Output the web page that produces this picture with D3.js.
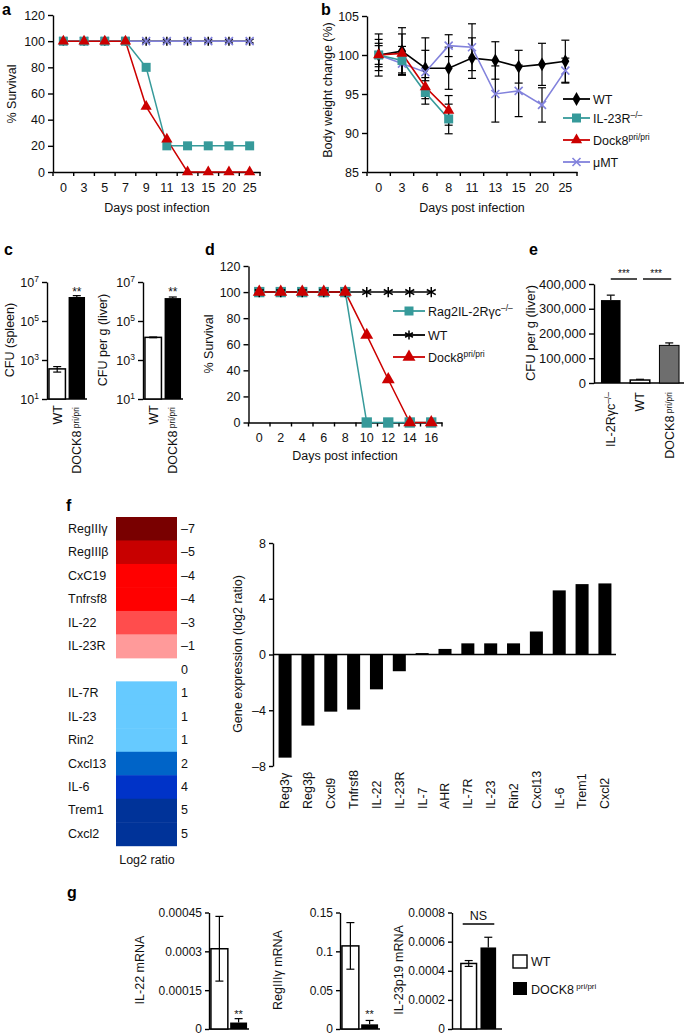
<!DOCTYPE html>
<html>
<head>
<meta charset="utf-8">
<script src="https://cdn.jsdelivr.net/npm/d3@7/dist/d3.min.js"></script>
<style>
html,body{margin:0;padding:0;background:#fff;}
svg{display:block;font-family:"Liberation Sans",Arial,Helvetica,sans-serif;}
</style>
</head>
<body>
<svg id="fig" width="685" height="1036" viewBox="0 0 685 1036"></svg>
<script>
// ================= DATA =================
// Panel a – survival
const daysA = ["0","3","5","7","9","11","13","15","20","25"];
const survA_WT    = [100,100,100,100,100,100,100,100,100,100];
const survA_muMT  = [100,100,100,100,100,100,100,100,100,100];
const survA_IL23R = [100,100,100,100,80,20,20,20,20,20];
const survA_Dock8 = [100,100,100,100,50,25,0,0,0,0];
const survTicks = [0,20,40,60,80,100,120];

// Panel b – body weight
const daysB = ["0","3","6","8","11","13","15","20","25"];
const wtB      = [100,100.5,98.3,98.3,99.6,99.3,98.5,98.8,99.2];
const wtBErr   = [2.7,3.0,3.9,2.7,2.6,2.4,2.1,2.7,2.7];
const mumtB    = [100,98.9,97.8,101.2,101.0,95.0,95.4,93.6,98.0];
const mumtBErr = [1.2,1.5,2.8,1.4,3.0,3.6,3.3,2.2,1.6];
const il23rB   = [100,99.3,95.2,91.8];
const il23rBErr= [1.5,1.8,1.5,1.9];
const dock8B   = [100,100.2,95.9,92.9];
const dock8BErr= [2.0,2.5,1.2,1.9];
const weightTicks = [85,90,95,100,105];

// Panel c – CFU (log)
const groupsC = ["WT","DOCK8"];
const cfuSpleen    = [350,1.7e6];
const cfuSpleenErr = [110,3e5];
const cfuLiver     = [1.45e4,1.5e6];
const cfuLiverErr  = [600,2e5];
const logTicks = [10,1e3,1e5,1e7];

// Panel d – survival
const daysD = ["0","2","4","6","8","10","12","14","16"];
const survD_Rag2  = [100,100,100,100,100,0,0,0,0];
const survD_WT    = [100,100,100,100,100,100,100,100,100];
const survD_Dock8 = [100,100,100,100,100,67,33,0,0];

// Panel e – CFU liver
const groupsE = ["IL-2Rγc","WT","DOCK8"];
const cfuE    = [335000,12000,152000];
const cfuEErr = [20000,3000,10000];
const ticksE  = [0,100000,200000,300000,400000];

// Panel f – heat map
const heatGenes  = ["RegIIIγ","RegIIIβ","CxC19","Tnfrsf8","IL-22","IL-23R","","IL-7R","IL-23","Rin2","Cxcl13","IL-6","Trem1","Cxcl2"];
const heatValues = [-7,-5,-4,-4,-3,-1,0,1,1,1,2,4,5,5];
const heatLevels = [-7,-5,-4,-3,-1,1,2,4,5];
const heatColors = ["#790000","#c80000","#ff0000","#ff4d4d","#ff9a9a","#66caff","#0064c8","#0033c8","#003399"];

// Panel f – bar chart
const barGenes  = ["Reg3γ","Reg3β","Cxcl9","Tnfrsf8","IL-22","IL-23R","IL-7","AHR","IL-7R","IL-23","Rin2","Cxcl13","IL-6","Trem1","Cxcl2"];
const barValues = [-7.4,-5.1,-4.1,-3.95,-2.5,-1.2,0.1,0.4,0.8,0.8,0.8,1.65,4.6,5.05,5.1];
const barTicks  = [-8,-4,0,4,8];

// Panel g – mRNA
const groupsG = ["WT","DOCK8"];
const il22     = [0.00031,0.000025];
const il22Err  = [0.000125,0.000015];
const il22Ticks = [0,0.00015,0.0003,0.00045];
const il22Labels = ["0","0.00015","0.0003","0.00045"];
const reg3g    = [0.107,0.006];
const reg3gErr = [0.030,0.005];
const reg3gTicks = [0,0.05,0.1,0.15];
const reg3gLabels = ["0","0.05","0.1","0.15"];
const il23p19    = [0.00045,0.00056];
const il23p19Err = [0.00002,0.00007];
const il23p19Ticks = [0,0.0002,0.0004,0.0006,0.0008];
const il23p19Labels = ["0","0.0002","0.0004","0.0006","0.0008"];

// ================= HELPERS =================
const svg = d3.select("#fig");
const FONT = '"Liberation Sans", Arial, Helvetica, sans-serif';
const INK = "#111";
const TEAL = "#369a9a", RED = "#cc0000", LAV = "#8282dc";
const SW = 1.4;

function txt(g,x,y,s,o={}){
  const t = g.append("text").attr("x",x).attr("y",y)
    .attr("font-size",o.size||12).attr("fill",o.fill||INK)
    .attr("text-anchor",o.anchor||"start");
  if(o.weight) t.attr("font-weight",o.weight);
  t.text(s);
  return t;
}
function sup(t,s,size=8,dy=-5){ t.append("tspan").attr("font-size",size).attr("dy",dy).text(s); return t; }
function vtext(g,x,y,s,o={}){
  return g.append("text").attr("transform",`translate(${x},${y}) rotate(-90)`)
    .attr("dy","0.35em").attr("font-size",o.size||12).attr("fill",INK)
    .attr("text-anchor",o.anchor||"middle").text(s);
}
function leftAxis(g,scale,x,ticks,fmt,size=12.5,tick=5){
  const a = g.append("g").attr("transform",`translate(${x},0)`)
    .call(d3.axisLeft(scale).tickValues(ticks).tickFormat(fmt).tickSize(tick).tickSizeOuter(0).tickPadding(3));
  a.attr("font-family",FONT).attr("font-size",size);
  a.select(".domain").attr("stroke","#000").attr("stroke-width",SW);
  a.selectAll(".tick line").attr("stroke","#000").attr("stroke-width",SW);
  a.selectAll(".tick text").attr("fill",INK);
  return a;
}
function bandBottomAxis(g,xs,y,pad=11,size=12.5){
  const a = g.append("g").attr("transform",`translate(0,${y})`)
    .call(d3.axisBottom(xs).tickSize(0).tickSizeOuter(0).tickPadding(pad));
  a.attr("font-family",FONT).attr("font-size",size);
  a.select(".domain").attr("stroke","#000").attr("stroke-width",SW);
  a.selectAll(".tick text").attr("fill",INK);
  const bounds = xs.domain().map(d=>xs(d)).concat([xs.range()[1]]);
  g.selectAll(null).data(bounds).enter().append("line")
    .attr("x1",d=>d).attr("x2",d=>d).attr("y1",y).attr("y2",y+4)
    .attr("stroke","#000").attr("stroke-width",SW);
}
function plainBaseline(g,x1,x2,y){
  g.append("line").attr("x1",x1).attr("x2",x2).attr("y1",y).attr("y2",y)
    .attr("stroke","#000").attr("stroke-width",SW);
}
function marker(g,type,x,y,color,scale=1){
  if(type==="square"){
    const s=9*scale;
    g.append("rect").attr("x",x-s/2).attr("y",y-s/2).attr("width",s).attr("height",s).attr("fill",color);
  } else if(type==="triangle"){
    g.append("path").attr("d",d3.symbol(d3.symbolTriangle,55*scale*scale)()).attr("transform",`translate(${x},${y})`).attr("fill",color);
  } else if(type==="diamond"){
    g.append("path").attr("d",d3.symbol(d3.symbolDiamond,55*scale*scale)()).attr("transform",`translate(${x},${y})`).attr("fill",color);
  } else if(type==="cross"){
    const r=4*scale;
    g.append("path").attr("d",`M${x-r},${y-r}L${x+r},${y+r}M${x-r},${y+r}L${x+r},${y-r}`)
      .attr("stroke",color).attr("stroke-width",1.6).attr("fill","none");
  } else if(type==="asterisk"){
    const r=4.5*scale, a=3.9*scale, b=2.25*scale;
    g.append("path").attr("d",`M${x},${y-r}L${x},${y+r}M${x-a},${y-b}L${x+a},${y+b}M${x-a},${y+b}L${x+a},${y-b}`)
      .attr("stroke",color).attr("stroke-width",1.5).attr("fill","none");
  }
}
// error bar from yTop to yBot; bottom cap only when twoSided
function errBar(g,x,yTop,yBot,twoSided=true,cap=8){
  g.append("line").attr("x1",x).attr("x2",x).attr("y1",yTop).attr("y2",yBot).attr("stroke","#000").attr("stroke-width",1.2);
  g.append("line").attr("x1",x-cap/2).attr("x2",x+cap/2).attr("y1",yTop).attr("y2",yTop).attr("stroke","#000").attr("stroke-width",1.2);
  if(twoSided) g.append("line").attr("x1",x-cap/2).attr("x2",x+cap/2).attr("y1",yBot).attr("y2",yBot).attr("stroke","#000").attr("stroke-width",1.2);
}
function survivalSeries(g,xs,ys,days,seriesList,mscale=1){
  const cx = d=>xs(d)+xs.bandwidth()/2;
  seriesList.forEach(s=>{
    const pts = s.vals.map((v,i)=>[cx(days[i]),ys(v)]);
    g.append("path").attr("d",d3.line()(pts)).attr("fill","none").attr("stroke",s.color).attr("stroke-width",1.5);
  });
  seriesList.forEach(s=>{
    s.vals.forEach((v,i)=>marker(g,s.m,cx(days[i]),ys(v),s.color,mscale));
  });
}
function legendRow(g,x1,x2,y,color,m,label,supTxt,mscale=1){
  g.append("line").attr("x1",x1).attr("x2",x2).attr("y1",y).attr("y2",y).attr("stroke",color).attr("stroke-width",1.8);
  marker(g,m,(x1+x2)/2,y,color,mscale);
  const t = txt(g,x2+3,y+4.5,label,{size:12.5});
  if(supTxt) sup(t,supTxt,8.5,-5);
}

// ================= PANEL a =================
{
  const g = svg.append("g");
  txt(g,2,15,"a",{size:16,weight:"bold",fill:"#000"});
  const x = d3.scaleBand().domain(daysA).range([53,260]);
  const y = d3.scaleLinear().domain([0,120]).range([172,15]);
  leftAxis(g,y,53,survTicks,d=>d);
  bandBottomAxis(g,x,172);
  vtext(g,12,94,"% Survival",{size:12.5});
  txt(g,157,212,"Days post infection",{anchor:"middle",size:12.5});
  survivalSeries(g,x,y,daysA,[
    {vals:survA_WT,color:"#000",m:"asterisk"},
    {vals:survA_muMT,color:LAV,m:"cross"},
    {vals:survA_IL23R,color:TEAL,m:"square"},
    {vals:survA_Dock8,color:RED,m:"triangle"}
  ]);
}

// ================= PANEL b =================
{
  const g = svg.append("g");
  txt(g,321,15,"b",{size:16,weight:"bold",fill:"#000"});
  const x = d3.scaleBand().domain(daysB).range([367,577]);
  const y = d3.scaleLinear().domain([85,105]).range([172,16]);
  leftAxis(g,y,367,weightTicks,d=>d);
  bandBottomAxis(g,x,172);
  vtext(g,328,90,"Body weight change (%)",{size:12.5});
  txt(g,472,212,"Days post infection",{anchor:"middle",size:12.5});
  const cx = d=>x(d)+x.bandwidth()/2;
  const sets = [
    {vals:wtB,err:wtBErr,color:"#000",m:"diamond"},
    {vals:mumtB,err:mumtBErr,color:LAV,m:"cross"},
    {vals:il23rB,err:il23rBErr,color:TEAL,m:"square"},
    {vals:dock8B,err:dock8BErr,color:RED,m:"triangle"}
  ];
  sets.forEach(s=>s.vals.forEach((v,i)=>errBar(g,cx(daysB[i]),y(v+s.err[i]),y(v-s.err[i]),true,8)));
  sets.forEach(s=>{
    const pts = s.vals.map((v,i)=>[cx(daysB[i]),y(v)]);
    g.append("path").attr("d",d3.line()(pts)).attr("fill","none").attr("stroke",s.color).attr("stroke-width",1.6);
  });
  sets.forEach(s=>s.vals.forEach((v,i)=>marker(g,s.m,cx(daysB[i]),y(v),s.color)));
  legendRow(g,563,590,99,"#000","diamond","WT");
  legendRow(g,563,590,118,TEAL,"square","IL-23R","–/–");
  legendRow(g,563,590,140,RED,"triangle","Dock8","pri/pri");
  legendRow(g,563,590,162,LAV,"cross","μMT");
}

// ================= PANEL c =================
function cfuLogChart(g,axisX,xr,vals,errs,title,titleX){
  const y = d3.scaleLog().domain([10,1e7]).range([399,282]);
  const x = d3.scaleBand().domain(groupsC).range(xr).paddingInner(0.16).paddingOuter(0.1);
  const a = leftAxis(g,y,axisX,logTicks,()=>"");
  a.selectAll(".tick text").each(function(d){
    const t = d3.select(this); t.text("10");
    t.append("tspan").attr("dy",-5).attr("font-size",8.5).text(Math.round(Math.log10(d)));
  });
  plainBaseline(g,axisX,xr[1],399);
  groupsC.forEach((k,i)=>{
    const x0 = x(k), w = x.bandwidth();
    const r = g.append("rect").attr("x",x0).attr("width",w).attr("y",y(vals[i])).attr("height",399-y(vals[i]));
    if(i===0) r.attr("fill","#fff").attr("stroke","#000").attr("stroke-width",1.5);
    else r.attr("fill","#000");
    if(i===0) errBar(g,x0+w/2,y(vals[i]+errs[i]),y(vals[i]-errs[i]),true,8);
    else errBar(g,x0+w/2,y(vals[i]+errs[i]),y(vals[i]),false,8);
  });
  txt(g,x(groupsC[1])+x.bandwidth()/2,296,"**",{anchor:"middle",size:12});
  vtext(g,titleX,340,title,{size:12.5});
  g.append("text").attr("transform",`translate(${x(groupsC[0])+x.bandwidth()/2},405) rotate(-90)`)
    .attr("dy","0.35em").attr("text-anchor","end").attr("font-size",12.5).attr("fill",INK).text("WT");
  const l2 = g.append("text").attr("transform",`translate(${x(groupsC[1])+x.bandwidth()/2},407) rotate(-90)`)
    .attr("dy","0.35em").attr("text-anchor","end").attr("font-size",12.5).attr("fill",INK).text("DOCK8");
  l2.append("tspan").attr("font-size",8.5).attr("dy",-2).text(" pri/pri");
}
{
  const g = svg.append("g");
  txt(g,4,255,"c",{size:16,weight:"bold",fill:"#000"});
  cfuLogChart(g,47,[47,87],cfuSpleen,cfuSpleenErr,"CFU (spleen)",10);
  cfuLogChart(g,143,[143,183],cfuLiver,cfuLiverErr,"CFU per g (liver)",103);
}

// ================= PANEL d =================
{
  const g = svg.append("g");
  txt(g,205,255,"d",{size:16,weight:"bold",fill:"#000"});
  const x = d3.scaleBand().domain(daysD).range([248.5,442]);
  const y = d3.scaleLinear().domain([0,120]).range([422.5,266]);
  leftAxis(g,y,248.5,survTicks,d=>d);
  bandBottomAxis(g,x,422.5);
  vtext(g,209,344,"% Survival",{size:12.5});
  txt(g,345,460,"Days post infection",{anchor:"middle",size:12.5});
  survivalSeries(g,x,y,daysD,[
    {vals:survD_Rag2,color:TEAL,m:"square"},
    {vals:survD_WT,color:"#000",m:"asterisk"},
    {vals:survD_Dock8,color:RED,m:"triangle"}
  ],1.15);
  legendRow(g,393,425,311,TEAL,"square","Rag2IL-2Rγc","–/–");
  legendRow(g,393,425,335,"#000","asterisk","WT");
  legendRow(g,393,425,357,RED,"triangle","Dock8","pri/pri",1.15);
}

// ================= PANEL e =================
{
  const g = svg.append("g");
  txt(g,529,255,"e",{size:16,weight:"bold",fill:"#000"});
  const y = d3.scaleLinear().domain([0,400000]).range([383,284]);
  const x = d3.scaleBand().domain(groupsE).range([596,684]).paddingInner(0.33).paddingOuter(0.17);
  leftAxis(g,y,594,ticksE,d3.format(","),13);
  plainBaseline(g,594,684,383);
  const fills = ["#000","#fff","#6e6e6e"];
  groupsE.forEach((k,i)=>{
    const x0 = x(k), w = x.bandwidth();
    errBar(g,x0+w/2,y(cfuE[i]+cfuEErr[i]),y(cfuE[i]),false,8);
    const r = g.append("rect").attr("x",x0).attr("width",w).attr("y",y(cfuE[i])).attr("height",383-y(cfuE[i])).attr("fill",fills[i]);
    if(i===1) r.attr("stroke","#000").attr("stroke-width",1.5);
    else if(i===2) r.attr("stroke","#000").attr("stroke-width",1);
  });
  const c = groupsE.map(k=>x(k)+x.bandwidth()/2);
  plainBaseline(g,c[0],c[1]-3,279);
  plainBaseline(g,c[1]+3,c[2]+2,279);
  txt(g,(c[0]+c[1]-3)/2,277,"***",{anchor:"middle",size:10});
  txt(g,(c[1]+3+c[2])/2,277,"***",{anchor:"middle",size:10});
  vtext(g,530,333,"CFU per g (liver)",{size:13});
  const labs = [["IL-2Rγc","–/–"],["WT",null],["DOCK8"," pri/pri"]];
  labs.forEach((l,i)=>{
    const t = g.append("text").attr("transform",`translate(${c[i]},392) rotate(-90)`)
      .attr("dy","0.35em").attr("text-anchor","end").attr("font-size",12.5).attr("fill",INK).text(l[0]);
    if(l[1]) t.append("tspan").attr("font-size",8.5).attr("dy",i===0?-4:-2).text(l[1]);
  });
}

// ================= PANEL f (heat map) =================
{
  const g = svg.append("g");
  txt(g,66,511,"f",{size:16,weight:"bold",fill:"#000"});
  const y = d3.scaleBand().domain(d3.range(heatGenes.length)).range([517,845.7]);
  const color = d3.scaleOrdinal().domain(heatLevels).range(heatColors);
  heatValues.forEach((v,i)=>{
    if(v!==0) g.append("rect").attr("x",116).attr("width",61).attr("y",y(i)).attr("height",y.bandwidth()+0.5).attr("fill",color(v));
    const cy = y(i)+y.bandwidth()/2+4;
    if(heatGenes[i]) txt(g,68,cy,heatGenes[i],{size:12.5});
    txt(g,181,cy,v<0?"–"+(-v):String(v),{size:12.5});
  });
  txt(g,147,864,"Log2 ratio",{anchor:"middle",size:12.5});
}

// ================= PANEL f (bar chart) =================
{
  const g = svg.append("g");
  const y = d3.scaleLinear().domain([-8,8]).range([766,543]);
  const x = d3.scaleBand().domain(barGenes).range([274,616]).paddingInner(0.43).paddingOuter(0.2);
  barGenes.forEach((k,i)=>{
    const v = barValues[i];
    g.append("rect").attr("x",x(k)).attr("width",x.bandwidth())
      .attr("y",Math.min(y(0),y(v))).attr("height",Math.abs(y(v)-y(0))).attr("fill","#000");
    g.append("text").attr("transform",`translate(${x(k)+x.bandwidth()/2},809) rotate(-90)`)
      .attr("dy","0.35em").attr("text-anchor","start").attr("font-size",12.5).attr("fill",INK).text(k);
  });
  leftAxis(g,y,273,barTicks,d=>d<0?"–"+(-d):String(d),12.5,4);
  plainBaseline(g,273,616,y(0));
  vtext(g,238,654,"Gene expression (log2 ratio)",{size:12.5});
}

// ================= PANEL g =================
function mrnaChart(g,axisX,xr,domMax,ticks,labels,vals,errs,title,titleX,opts={}){
  const y = d3.scaleLinear().domain([0,domMax]).range([1029,912.5]);
  const x = d3.scaleBand().domain(groupsG).range(xr).paddingInner(opts.pi||0.12).paddingOuter(opts.po||0.1);
  leftAxis(g,y,axisX,ticks,(d,i)=>labels[i],12,4);
  plainBaseline(g,axisX,xr[1],1029);
  groupsG.forEach((k,i)=>{
    const x0 = x(k), w = x.bandwidth();
    const r = g.append("rect").attr("x",x0).attr("width",w).attr("y",y(vals[i])).attr("height",1029-y(vals[i]));
    if(i===0) r.attr("fill","#fff").attr("stroke","#000").attr("stroke-width",1.5);
    else r.attr("fill","#000");
    if(i===0) errBar(g,x0+w/2,y(vals[i]+errs[i]),y(vals[i]-errs[i]),true,8);
    else errBar(g,x0+w/2,y(vals[i]+errs[i]),y(vals[i]),false,8);
  });
  if(opts.stars){
    const cxb = x(groupsG[1])+x.bandwidth()/2;
    txt(g,cxb,opts.starY,"**",{anchor:"middle",size:11});
  }
  if(opts.ns){
    const c0 = x(groupsG[0])+x.bandwidth()/2, c1 = x(groupsG[1])+x.bandwidth()/2;
    plainBaseline(g,c0-6,c1+6,924);
    txt(g,(c0+c1)/2,920,"NS",{anchor:"middle",size:12.5});
  }
  vtext(g,titleX,970,title,{size:12.5});
}
{
  const g = svg.append("g");
  txt(g,67,898,"g",{size:16,weight:"bold",fill:"#000"});
  mrnaChart(g,209,[209,249],0.00045,il22Ticks,il22Labels,il22,il22Err,"IL-22 mRNA",140,{stars:true,starY:1018});
  mrnaChart(g,340,[340,380],0.15,reg3gTicks,reg3gLabels,reg3g,reg3gErr,"RegIIIγ mRNA",278,{stars:true,starY:1018});
  mrnaChart(g,452,[455,502],0.0008,il23p19Ticks,il23p19Labels,il23p19,il23p19Err,"IL-23p19 mRNA",399,{ns:true,pi:0.2,po:0.3});
  g.append("rect").attr("x",513).attr("y",955).attr("width",14).attr("height",13).attr("fill","#fff").attr("stroke","#000").attr("stroke-width",1.4);
  txt(g,531,966,"WT",{size:12.5});
  g.append("rect").attr("x",513).attr("y",982).attr("width",14).attr("height",13).attr("fill","#000");
  const t = txt(g,531,994,"DOCK8",{size:12.5});
  sup(t," pri/pri",8,-5);
}
</script>
</body>
</html>
